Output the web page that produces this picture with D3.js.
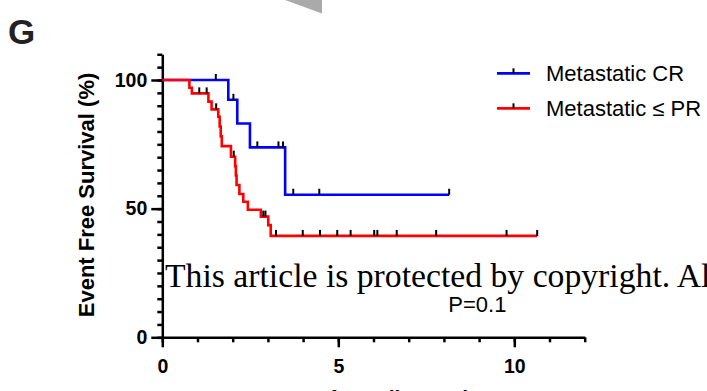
<!DOCTYPE html>
<html>
<head>
<meta charset="utf-8">
<script src="https://cdn.jsdelivr.net/npm/d3@7"></script>
<style>
  body { margin: 0; background: #fff; }
  svg { display: block; }
</style>
</head>
<body>
<script>
'use strict';

// Kaplan-Meier steps (time in years, survival %)
const crTimes = [0, 1.875, 2.13, 2.49, 3.49, 8.15];
const crSurv = [100, 92.3, 83.1, 73.8, 55.4, 55.4];
const crCensor = [1.52, 2.02, 2.70, 3.30, 3.43, 3.72, 4.46, 8.15];

const prTimes = [0, 0.77, 0.84, 1.31, 1.40, 1.59, 1.63, 1.66, 1.69, 1.95, 2.07, 2.09, 2.11,
  2.19, 2.30, 2.43, 2.80, 3.01, 3.08, 10.65];
const prSurv = [100, 97.0, 94.8, 91.6, 88.6, 85.7, 81.9, 78.1, 74.3, 70.2, 66.5, 62.9, 59.2,
  55.7, 52.7, 49.6, 46.9, 43.6, 39.4, 39.4];
const prCensor = [1.05, 1.26, 1.53, 2.03, 2.87, 2.93, 3.23, 3.99, 4.48, 4.97, 5.35, 6.02,
  6.11, 6.66, 7.78, 9.78, 10.65];

const seriesNames = ['Metastatic CR', 'Metastatic \u2264 PR'];
const seriesColors = ['#0000ff', '#ff0000'];

const xMajor = [0, 5, 10];
const xMinor = d3.range(0, 13, 1);
const yMajor = [0, 50, 100];
const yMinor = d3.range(0, 111, 5);

const pValue = 'P=0.1';

(function() {
  const svg = d3.select('body').append('svg')
    .attr('width', 707)
    .attr('height', 391);

  const x = d3.scaleLinear().domain([0, 12]).range([162.3, 584.7]);
  const y = d3.scaleLinear().domain([0, 100]).range([337.3, 80]);

  // watermark fragment at top
  svg.append('path')
    .attr('d', 'M285,0 L322,0 L322,13.5 Z')
    .attr('fill', '#aaaaaa');

  svg.append('text')
    .attr('x', 8)
    .attr('y', 44)
    .style('font-family', '"Liberation Sans", Arial, sans-serif')
    .style('font-weight', 'bold')
    .style('font-size', '35px')
    .attr('fill', '#222')
    .text('G');

  // axes
  const axisFont = '"Liberation Sans", Arial, sans-serif';

  const yMin = svg.append('g')
    .attr('transform', `translate(${x(0)},0)`)
    .call(d3.axisLeft(y.copy().domain([0, 110]).range([y(0), y(110)]))
      .tickValues(yMinor).tickSize(5).tickSizeOuter(0).tickFormat(''));
  const yMaj = svg.append('g')
    .attr('transform', `translate(${x(0)},0)`)
    .call(d3.axisLeft(y).tickValues(yMajor).tickSize(11).tickSizeOuter(0).tickPadding(4));
  yMaj.select('.domain').remove();

  const xMin = svg.append('g')
    .attr('transform', `translate(0,${y(0)})`)
    .call(d3.axisBottom(x).tickValues(xMinor).tickSize(5).tickSizeOuter(0).tickFormat(''));
  const xMaj = svg.append('g')
    .attr('transform', `translate(0,${y(0)})`)
    .call(d3.axisBottom(x).tickValues(xMajor).tickSize(10).tickSizeOuter(0).tickPadding(12));
  xMaj.select('.domain').remove();

  svg.selectAll('.domain, .tick line')
    .attr('stroke', '#000')
    .attr('stroke-width', 2.5);
  svg.selectAll('.tick text')
    .attr('fill', '#000')
    .style('font-family', axisFont)
    .style('font-weight', 'bold')
    .style('font-size', '19.5px');

  svg.append('text')
    .attr('transform', 'translate(94, 195) rotate(-90)')
    .attr('text-anchor', 'middle')
    .style('font-family', axisFont)
    .style('font-weight', 'bold')
    .style('font-size', '22px')
    .text('Event Free Survival (%)');

  svg.append('text')
    .attr('x', 373.5)
    .attr('y', 405)
    .attr('text-anchor', 'middle')
    .style('font-family', axisFont)
    .style('font-weight', 'bold')
    .style('font-size', '21px')
    .text('Years from diagnosis');

  // curves
  const line = d3.line()
    .x(d => x(d[0]))
    .y(d => y(d[1]))
    .curve(d3.curveStepAfter);

  function survAt(times, surv, t) {
    let s = surv[0];
    for (let i = 0; i < times.length; i++) {
      if (times[i] <= t) s = surv[i];
    }
    return s;
  }

  const series = [
    { times: crTimes, surv: crSurv, censor: crCensor, color: seriesColors[0] },
    { times: prTimes, surv: prSurv, censor: prCensor, color: seriesColors[1] }
  ];

  series.forEach((s) => {
    svg.append('path')
      .datum(d3.zip(s.times, s.surv))
      .attr('fill', 'none')
      .attr('stroke', s.color)
      .attr('stroke-width', 2.6)
      .attr('d', line);
  });

  series.forEach((s) => {
    svg.selectAll(null)
      .data(s.censor)
      .enter()
      .append('line')
        .attr('x1', d => x(d))
        .attr('x2', d => x(d))
        .attr('y1', d => y(survAt(s.times, s.surv, d)))
        .attr('y2', d => y(survAt(s.times, s.surv, d)) - 6)
        .attr('stroke', '#000')
        .attr('stroke-width', 2);
  });

  // legend
  const legend = svg.append('g');
  seriesNames.forEach((name, i) => {
    const ly = 73.3 + i * 35;
    legend.append('line')
      .attr('x1', 497).attr('x2', 530)
      .attr('y1', ly).attr('y2', ly)
      .attr('stroke', seriesColors[i])
      .attr('stroke-width', 2.7);
    legend.append('line')
      .attr('x1', 513.5).attr('x2', 513.5)
      .attr('y1', ly).attr('y2', ly - 5)
      .attr('stroke', '#000')
      .attr('stroke-width', 2);
    legend.append('text')
      .attr('x', 546)
      .attr('y', ly + 7.5)
      .style('font-family', axisFont)
      .style('font-size', '22px')
      .attr('fill', '#000')
      .text(name);
  });

  // watermark text
  svg.append('text')
    .attr('x', 165)
    .attr('y', 287)
    .style('font-family', '"Liberation Serif", "Times New Roman", serif')
    .style('font-size', '33.7px')
    .attr('fill', '#000')
    .text('This article is protected by copyright. All rights reserved.');

  svg.append('text')
    .attr('x', 448.3)
    .attr('y', 311.7)
    .style('font-family', axisFont)
    .style('font-size', '22px')
    .attr('fill', '#000')
    .text(pValue);
})();
</script>
</body>
</html>
